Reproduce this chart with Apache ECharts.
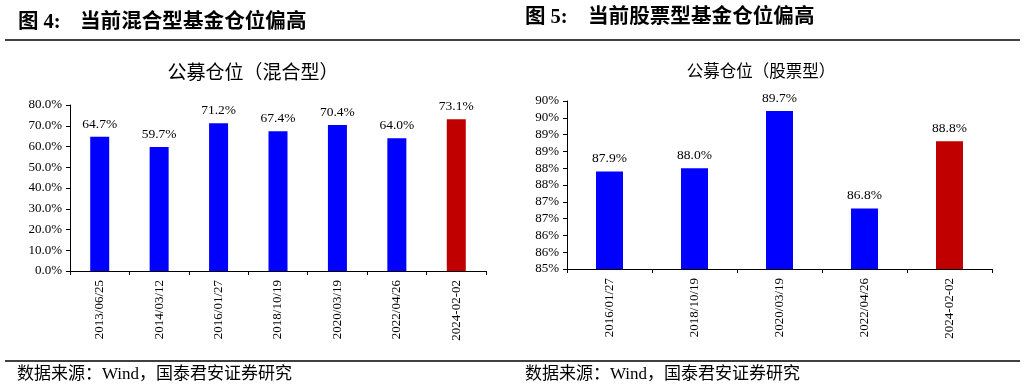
<!DOCTYPE html>
<html>
<head>
<meta charset="utf-8">
<script src="https://cdn.jsdelivr.net/npm/echarts@6/dist/echarts.min.js"></script>
<style>
html,body{margin:0;padding:0;background:#fff;}
#c{width:1026px;height:390px;}
</style>
</head>
<body>
<div id="c"></div>
<script>
// ---- data ----
var mixedCategories = ['2013/06/25','2014/03/12','2016/01/27','2018/10/19','2020/03/19','2022/04/26','2024-02-02'];
var mixedValues = [64.7, 59.7, 71.2, 67.4, 70.4, 64.0, 73.1];
var stockCategories = ['2016/01/27','2018/10/19','2020/03/19','2022/04/26','2024-02-02'];
var stockValues = [87.9, 88.0, 89.7, 86.8, 88.8];
var mixedTicks = {min: 0, max: 80, interval: 10};
var stockTicks = {min: 85, max: 90, interval: 0.5};

var BLUE = '#0000FF', RED = '#C00000';
var serif = '"Liberation Serif","Noto Sans CJK SC",serif';
var cjk = '"Liberation Serif","Noto Sans CJK SC",sans-serif';

function items(vals) {
  return vals.map(function (v, i) {
    return {value: v, itemStyle: {color: i === vals.length - 1 ? RED : BLUE}};
  });
}

var chart = echarts.init(document.getElementById('c'));

function xAxis(idx, cats) {
  return {
    type: 'category', gridIndex: idx, data: cats,
    axisLine: {lineStyle: {color: '#000', width: 1}},
    axisTick: {show: true, length: 4, lineStyle: {color: '#000'}},
    axisLabel: {rotate: 90, color: '#000', fontFamily: serif, fontSize: 13, margin: 9}
  };
}
function yAxis(idx, t, fmt) {
  return {
    type: 'value', gridIndex: idx, min: t.min, max: t.max, interval: t.interval,
    axisLine: {show: true, lineStyle: {color: '#000', width: 1}},
    axisTick: {show: true, length: 4, lineStyle: {color: '#000'}},
    splitLine: {show: false},
    axisLabel: {color: '#000', fontFamily: serif, fontSize: 13, margin: 8, formatter: fmt}
  };
}
function bar(idx, vals, w) {
  return {
    type: 'bar', xAxisIndex: idx, yAxisIndex: idx, data: items(vals), barWidth: w,
    label: {show: true, position: 'top', distance: 6, color: '#000', fontFamily: serif, fontSize: 13.5,
      formatter: function (p) { return p.value.toFixed(1) + '%'; }}
  };
}
function txt(x, y, s, size, weight, align) {
  return {type: 'text', x: x, y: y, style: {text: s, fontSize: size, fontWeight: weight || 'normal',
    fontFamily: cjk, fill: '#000', textAlign: align || 'left', textVerticalAlign: 'middle'}};
}
function line(x1, y1, x2, y2) {
  return {type: 'line', shape: {x1: x1, y1: y1, x2: x2, y2: y2}, style: {stroke: '#000', lineWidth: 1.5}};
}

chart.setOption({
  animation: false,
  backgroundColor: '#fff',
  grid: [
    {left: 70, right: 540, top: 105, bottom: 119},
    {left: 567, right: 34, top: 101, bottom: 121}
  ],
  xAxis: [xAxis(0, mixedCategories), xAxis(1, stockCategories)],
  yAxis: [
    yAxis(0, mixedTicks, function (v) { return v.toFixed(1) + '%'; }),
    yAxis(1, stockTicks, function (v) { return Math.round(v) + '%'; })
  ],
  series: [bar(0, mixedValues, 19), bar(1, stockValues, 27)],
  graphic: [
    txt(18, 23, '图 4:', 20.5, 'bold'),
    txt(80, 23, '当前混合型基金仓位偏高', 20.6, 'bold'),
    txt(525, 18, '图 5:', 20.5, 'bold'),
    txt(588, 18, '当前股票型基金仓位偏高', 20.6, 'bold'),
    line(5, 40, 1020, 40),
    txt(253, 74, '公募仓位（混合型）', 19, 'normal', 'center'),
    txt(761, 73, '公募仓位（股票型）', 16.5, 'normal', 'center'),
    line(5, 361, 1020, 361),
    txt(17, 375, '数据来源：Wind，国泰君安证券研究', 17),
    txt(525, 375, '数据来源：Wind，国泰君安证券研究', 17)
  ]
});
</script>
</body>
</html>
